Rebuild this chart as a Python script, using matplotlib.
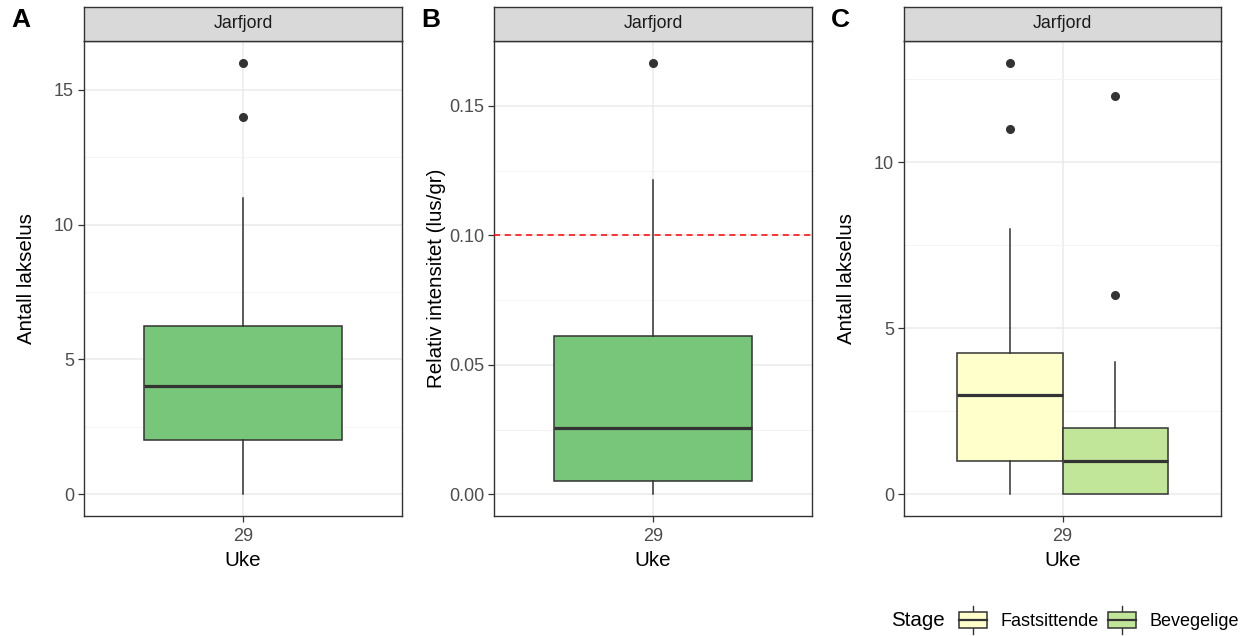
import matplotlib
matplotlib.use('Agg')
import matplotlib.pyplot as plt
from matplotlib.patches import Rectangle
from matplotlib.lines import Line2D
from matplotlib.legend_handler import HandlerBase

plt.rcParams['font.family'] = ['Liberation Sans', 'DejaVu Sans']

# ---- data ----
week = ['29']
site = 'Jarfjord'

# A: antall lakselus per fisk
a_box = [2, 4, 6.25, 0, 11]          # q1, median, q3, whisker lo, whisker hi
a_out = [14, 16]

# B: relativ intensitet (lus/gr)
b_box = [0.005, 0.0258, 0.0612, 0.0, 0.1212]
b_out = [0.1667]
b_limit = 0.10

# C: antall lakselus per stadium
stages = ['Fastsittende', 'Bevegelige']
c_q1 = [1, 0]
c_med = [3, 1]
c_q3 = [4.25, 2]
c_lo = [0, 0]
c_hi = [8, 4]
c_out = [[11, 13], [6, 12]]
c_colors = ['#FFFFCC', '#C2E699']

GREEN = '#78C679'
DARK = '#333333'
W, H = 1247, 637
TICK_FS = 13
TITLE_FS = 14.8

fig = plt.figure(figsize=(W / 100, H / 100), dpi=100)


def make_stats(q1, med, q3, lo, hi, out):
    return dict(q1=q1, med=med, q3=q3, whislo=lo, whishi=hi, fliers=out)


def panel(left_px, width_px, values, yticks, minor, fmt, ylabel, letter):
    bottom_px, top_px = 516, 41
    rect = [left_px / W, 1 - bottom_px / H, width_px / W, (bottom_px - top_px) / H]
    ax = fig.add_axes(rect)
    lo, hi = min(values), max(values)
    pad = 0.05 * (hi - lo)
    ax.set_ylim(lo - pad, hi + pad)
    ax.set_xlim(0.4, 1.6)
    ax.set_yticks(yticks)
    ax.set_yticklabels([fmt.format(v) for v in yticks])
    ax.set_yticks(minor, minor=True)
    ax.set_xticks([1])
    ax.set_xticklabels(week)
    ax.grid(which='major', color='#EBEBEB', lw=1.1)
    ax.grid(which='minor', axis='y', color='#F3F3F3', lw=0.6)
    ax.set_axisbelow(True)
    ax.tick_params(which='major', length=4.2, width=0.9, color=DARK,
                   labelsize=TICK_FS, labelcolor='#4D4D4D', pad=3)
    ax.tick_params(axis='x', pad=4.5)
    ax.tick_params(which='minor', length=0)
    for s in ax.spines.values():
        s.set_color(DARK)
        s.set_linewidth(1.0)
    ax.set_xlabel('Uke', fontsize=TITLE_FS, labelpad=4)
    ax.set_ylabel(ylabel, fontsize=TITLE_FS)
    ax.yaxis.set_label_coords(-48 / width_px, 0.5)

    # facet strip
    srect = [rect[0], rect[1] + rect[3], rect[2], 34 / H]
    st = fig.add_axes(srect)
    st.set_facecolor('#D9D9D9')
    st.set_xticks([])
    st.set_yticks([])
    for s in st.spines.values():
        s.set_color(DARK)
        s.set_linewidth(1.0)
    st.text(0.5, 0.5, site, ha='center', va='center', fontsize=12.8, color='#1A1A1A')

    fig.text((left_px - 73) / W, 1 - 20 / H, letter, fontsize=19, fontweight='bold',
             ha='left', va='center')
    return ax


def draw_boxes(ax, stats, positions, width, colors):
    bp = ax.bxp(stats, positions=positions, widths=width, patch_artist=True,
                showcaps=False, manage_ticks=False,
                boxprops=dict(edgecolor=DARK, linewidth=1.1),
                medianprops=dict(color=DARK, linewidth=2.3),
                whiskerprops=dict(color=DARK, linewidth=1.1),
                flierprops=dict(marker='o', markerfacecolor=DARK, markeredgecolor=DARK,
                                markersize=5.5))
    for patch, c in zip(bp['boxes'], colors):
        patch.set_facecolor(c)
        patch.set_zorder(2)
    return bp


# ---- A ----
axA = panel(84, 318, a_box + a_out, [0, 5, 10, 15], [2.5, 7.5, 12.5], '{:g}',
            'Antall lakselus', 'A')
draw_boxes(axA, [make_stats(*a_box, a_out)], [1], 0.75, [GREEN])

# ---- B ----
axB = panel(494, 318, b_box + b_out, [0, 0.05, 0.10, 0.15], [0.025, 0.075, 0.125],
            '{:.2f}', 'Relativ intensitet (lus/gr)', 'B')
axB.axhline(b_limit, color='red', lw=1.1, ls=(0, (4, 3)), zorder=3)
draw_boxes(axB, [make_stats(*b_box, b_out)], [1], 0.75, [GREEN])

# ---- C ----
c_all = c_q1 + c_med + c_q3 + c_lo + c_hi + [v for o in c_out for v in o]
axC = panel(904, 317, c_all, [0, 5, 10], [2.5, 7.5, 12.5], '{:g}', 'Antall lakselus', 'C')
c_stats = [make_stats(c_q1[i], c_med[i], c_q3[i], c_lo[i], c_hi[i], c_out[i])
           for i in range(len(stages))]
draw_boxes(axC, c_stats, [0.8, 1.2], 0.4, c_colors)


# ---- legend ----
class BoxKey(HandlerBase):
    def create_artists(self, legend, orig, xd, yd, width, height, fontsize, trans):
        x0, y0 = -xd, -yd - 2.2
        full = height + yd
        cx = x0 + width / 2
        b0, b1 = y0 + 0.21 * full, y0 + 0.79 * full
        r = Rectangle((x0, b0), width, b1 - b0, facecolor=orig.get_facecolor(),
                      edgecolor=DARK, lw=1.1, transform=trans)
        med = Line2D([x0, x0 + width], [(b0 + b1) / 2] * 2, color=DARK, lw=1.6,
                     transform=trans)
        w1 = Line2D([cx, cx], [y0, b0], color=DARK, lw=1.0, transform=trans)
        w2 = Line2D([cx, cx], [b1, y0 + full], color=DARK, lw=1.0, transform=trans)
        return [w1, w2, r, med]


handles = [Rectangle((0, 0), 1, 1, facecolor=c) for c in c_colors]
fig.text(891 / W, 1 - 620 / H, 'Stage', fontsize=TITLE_FS, ha='left', va='center')
fig.legend(handles, stages, handler_map={Rectangle: BoxKey()}, ncol=2, frameon=False,
           loc='center left', bbox_to_anchor=(959 / W, 1 - 620 / H), borderpad=0,
           borderaxespad=0, fontsize=TICK_FS, handlelength=1.55, handleheight=1.55,
           handletextpad=0.75, columnspacing=0.5)

fig.savefig('out.png', dpi=100)
